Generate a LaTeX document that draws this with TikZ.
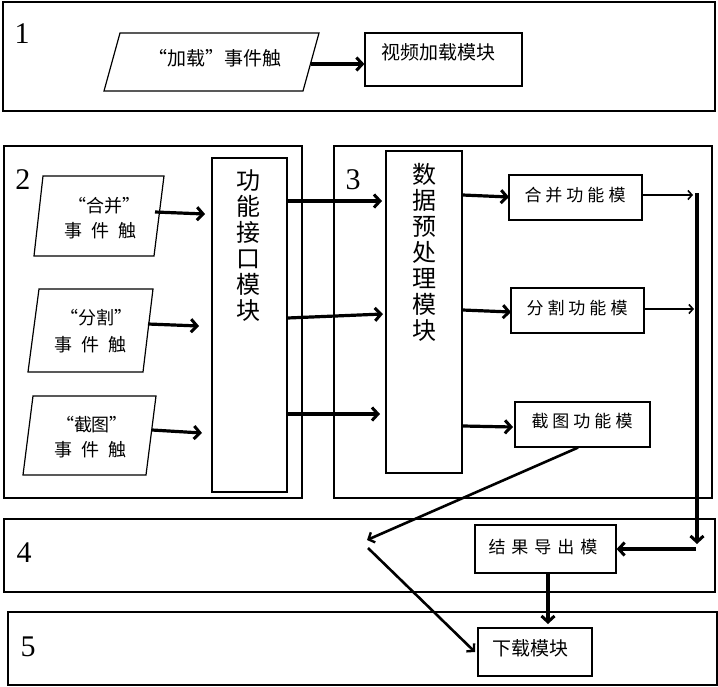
\documentclass[tikz,border=0pt]{standalone}
\usepackage{fontspec}
\setmainfont{Liberation Serif}
\newfontfamily\cjk{Noto Sans CJK SC}
\usetikzlibrary{arrows.meta}
\tikzset{
  panel/.style={draw, line width=1.2pt},
  box/.style={draw, line width=1.2pt, inner sep=0pt},
  txt/.style={inner sep=0pt, font=\cjk\fontsize{18}{20}\selectfont},
  ftxt/.style={inner sep=0pt, font=\cjk\fontsize{17}{20}\selectfont},
  vtxt/.style={inner sep=0pt, align=center, font=\cjk\fontsize{24}{26}\selectfont},
  num/.style={inner sep=0pt, font=\fontsize{30}{30}\selectfont},
  arr/.style={line width=3.2pt, -{Straight Barb[length=6pt,width=13pt,line width=3pt]}},
  thinarr/.style={line width=2pt, -{Straight Barb[length=4pt,width=9pt,line width=1.6pt]}},
}
\begin{document}
\begin{tikzpicture}[x=1pt,y=-1pt]
\useasboundingbox (0,0) rectangle (718,686);

% panels
\draw[panel] (3,2) rectangle (715,111);
\draw[panel] (4,146) rectangle (302,498);
\draw[panel] (334,146) rectangle (712,498);
\draw[panel] (4,519) rectangle (715,592);
\draw[panel] (8,612) rectangle (717,685);
\node[num] (n1) at (22,34) {1};
\node[num] (n2) at (23,180) {2};
\node[num] (n3) at (353,180) {3};
\node[num] (n4) at (24,553) {4};
\node[num] (n5) at (28,647) {5};

% panel 1
\draw[box] (120,33) -- (319,33) -- (303,91) -- (104,91) -- cycle;
\node[txt, font=\cjk\fontsize{19}{20}\selectfont] (load) at (215,58) {“加载”事件触};
\node[box, minimum width=157, minimum height=53] (video) at (443.5,59.5) {};
\node[txt, font=\cjk\fontsize{19}{20}\selectfont] (videot) at (438,52) {视频加载模块};
\coordinate (l1) at (311,64);
\draw[arr] (l1) -- (l1 -| video.west);

% panel 2 parallelograms
\draw[box] (43,176) -- (164,176) -- (154,256) -- (34,256) -- cycle;
\node[txt] (m1) at (104,206) {“合并”};
\node[txt] (m2) at (100,231) {事\kern9pt 件\kern9pt 触};
\draw[box] (39,289) -- (153,289) -- (143,372) -- (28,372) -- cycle;
\node[txt] (s1) at (96,318) {“分割”};
\node[txt] (s2) at (90,345) {事\kern9pt 件\kern9pt 触};
\draw[box] (33,396) -- (156,396) -- (146,475) -- (23,475) -- cycle;
\node[txt] (c1) at (92,425) {“截图”};
\node[txt] (c2) at (90,450) {事\kern9pt 件\kern9pt 触};

% interface module
\node[box, minimum width=75, minimum height=334] (iface) at (249.5,325) {};
\node[vtxt] (ifacet) at (248,246) {功\\能\\接\\口\\模\\块};

\coordinate (e1) at (155,212);
\coordinate (e2) at (148,324);
\coordinate (e3) at (152,430);
\draw[arr] (e1) -- (205,214);
\draw[arr] (e2) -- (199,326);
\draw[arr] (e3) -- (202,433);

% data preprocessing module
\node[box, minimum width=76, minimum height=322] (dp) at (424,312) {};
\node[vtxt] (dpt) at (424,252) {数\\据\\预\\处\\理\\模\\块};

\draw[arr] (iface.east |- 0,201) -- (382,201);
\draw[arr] (iface.east |- 0,318) -- (383,314);
\draw[arr] (iface.east |- 0,414) -- (380,414);

% function modules
\node[box, minimum width=133, minimum height=45] (merge) at (575.5,197.5) {};
\node[ftxt] (merget) at (575,195) {合\kern4pt 并\kern4pt 功\kern4pt 能\kern4pt 模};
\node[box, minimum width=133, minimum height=45] (split) at (577.5,310.5) {};
\node[ftxt] (splitt) at (577,308) {分\kern4pt 割\kern4pt 功\kern4pt 能\kern4pt 模};
\node[box, minimum width=135, minimum height=45] (shot) at (582.5,424.5) {};
\node[ftxt] (shott) at (582,421) {截\kern4pt 图\kern4pt 功\kern4pt 能\kern4pt 模};

\draw[arr] (dp.east |- 0,195) -- (509,197);
\draw[arr] (dp.east |- 0,310) -- (511,312);
\draw[arr] (463,426) -- (513,427);

\coordinate (r1) at (693,195);
\coordinate (r2) at (694,309);
\draw[thinarr] (merge.east |- r1) -- (r1);
\draw[thinarr] (split.east |- r2) -- (r2);

% collector line
\coordinate (vtop) at (697,193);
\coordinate (vbot) at (697,544);
\draw[arr] (vtop) -- (vbot);

% result export
\node[box, minimum width=141, minimum height=48] (export) at (545.5,549) {};
\node[ftxt] (exportt) at (543,547) {结\kern6pt 果\kern6pt 导\kern6pt 出\kern6pt 模};
\coordinate (h1) at (696,549);
\draw[arr] (h1) -- (export.east |- h1);

% download
\node[box, minimum width=114, minimum height=48] (down) at (535,652) {};
\node[txt, font=\cjk\fontsize{19}{20}\selectfont] (downt) at (530,648) {下载模块};
\draw[arr] (export.south -| 548,0) -- (548,624);

% diagonal path from screenshot module
\coordinate (mid1) at (367,540);
\coordinate (mid2) at (368,548);
\draw[line width=2.6pt, -{Straight Barb[length=5pt,width=11pt,line width=2.4pt]}] (shot.south -| 578,0) -- (mid1);
\draw[line width=2.6pt, -{Straight Barb[length=5pt,width=11pt,line width=2.4pt]}] (mid2) -- (475,652);
\end{tikzpicture}
\end{document}
